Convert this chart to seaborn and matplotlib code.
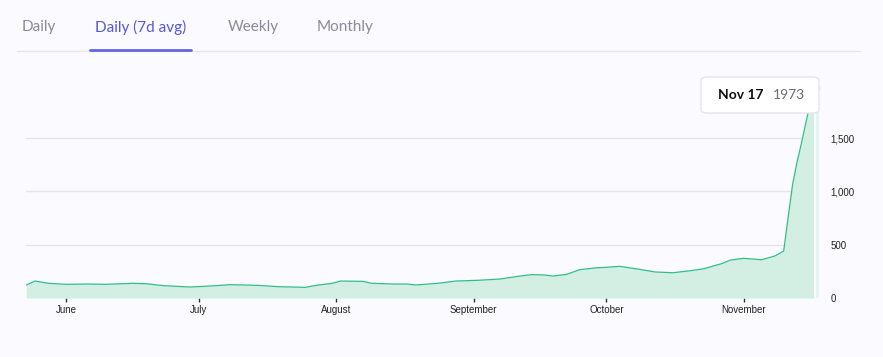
import pandas as pd
import seaborn as sns
import matplotlib.pyplot as plt
import matplotlib.dates as mdates
from matplotlib.patches import FancyBboxPatch
from matplotlib.lines import Line2D
from matplotlib.ticker import FuncFormatter

# 7-day average values
dates = [
    "2023-05-23", "2023-05-25", "2023-05-28", "2023-06-01", "2023-06-06",
    "2023-06-10", "2023-06-16", "2023-06-19", "2023-06-23", "2023-06-29",
    "2023-07-02", "2023-07-05", "2023-07-08", "2023-07-14", "2023-07-19",
    "2023-07-25", "2023-07-28", "2023-07-31", "2023-08-02", "2023-08-07",
    "2023-08-09", "2023-08-14", "2023-08-17", "2023-08-19", "2023-08-24",
    "2023-08-28", "2023-09-02", "2023-09-07", "2023-09-11", "2023-09-14",
    "2023-09-17", "2023-09-19", "2023-09-22", "2023-09-25", "2023-09-27",
    "2023-09-29", "2023-10-01", "2023-10-04", "2023-10-08", "2023-10-12",
    "2023-10-16", "2023-10-20", "2023-10-23", "2023-10-27", "2023-10-29",
    "2023-11-01", "2023-11-05", "2023-11-08", "2023-11-10", "2023-11-11",
    "2023-11-12", "2023-11-13", "2023-11-14", "2023-11-15", "2023-11-16",
    "2023-11-17",
]
values = [
    122, 159, 138, 128, 131,
    128, 138, 134, 116, 103,
    109, 116, 125, 119, 106,
    100, 122, 137, 159, 156,
    138, 131, 131, 122, 138,
    159, 166, 178, 203, 219,
    216, 206, 222, 266, 275,
    284, 288, 297, 272, 244,
    237, 256, 275, 322, 356,
    372, 359, 394, 440, 750,
    1060, 1270, 1450, 1640, 1830,
    1973,
]
y_ticks = [0, 500, 1000, 1500]
tabs = ["Daily", "Daily (7d avg)", "Weekly", "Monthly"]
active_tab = "Daily (7d avg)"
hover_label = "Nov 17"
hover_value = "1973"

df = pd.DataFrame({"date": pd.to_datetime(dates), "value": values})

bg = "#fafaff"
line_c = "#2fbf86"
fill_c = "#d3efe4"

sns.set_style("white", {"axes.facecolor": bg, "figure.facecolor": bg})
plt.rcParams["font.family"] = ["Liberation Sans", "DejaVu Sans"]

W, H = 883, 357
fig = plt.figure(figsize=(W / 100, H / 100), dpi=100)

# axes placement in pixels
x0, x1 = 26.2, 819.1
yb, ymax = 298, 1985
px_per_unit = 53.3 / 500
yt = yb - ymax * px_per_unit
ax = fig.add_axes([x0 / W, 1 - yb / H, (x1 - x0) / W, (yb - yt) / H])

ax.fill_between(df["date"], df["value"], 0, color=fill_c, lw=0, zorder=1)
sns.lineplot(data=df, x="date", y="value", ax=ax, color=line_c, lw=0.9, zorder=3)

# hover band + marker on the last point
last = df["date"].iloc[-1]
ax.axvspan(last, last + pd.Timedelta(days=1), color="#e3f5ee", lw=0, zorder=2)
ax.axvline(last, color="white", lw=1.2, zorder=2)
ax.plot([last], [df["value"].iloc[-1]], "o", ms=6, color="#d4ecf7", zorder=4, clip_on=False)

ax.set_xlim(pd.Timestamp("2023-05-23"), pd.Timestamp("2023-11-18"))
ax.set_ylim(0, ymax)
ax.set_yticks(y_ticks)
ax.yaxis.set_major_formatter(FuncFormatter(lambda v, p: f"{int(v):,}"))
ax.yaxis.tick_right()
ax.grid(axis="y", color="#e4e4ea", lw=1)
ax.set_axisbelow(True)

ax.xaxis.set_major_locator(mdates.MonthLocator(bymonth=range(6, 12)))
ax.xaxis.set_major_formatter(mdates.DateFormatter("%B"))
ax.tick_params(axis="x", length=3, width=1, color="#333333", pad=2, labelsize=7, labelcolor="#222222", bottom=True)
ax.tick_params(axis="y", length=0, pad=8, labelsize=7, labelcolor="#222222")
ax.set_xlabel("")
ax.set_ylabel("")
for s in ax.spines.values():
    s.set_visible(False)

# tabs on top
tab_font = ["Lato", "DejaVu Sans"]
tab_x = [22, 95, 228, 317]
for t, xp in zip(tabs, tab_x):
    fig.text(xp / W, 1 - 27.5 / H, t, ha="left", va="center", fontsize=11,
             family=tab_font, color="#5557d9" if t == active_tab else "#8a8a9c")
fig.add_artist(Line2D([17 / W, 860 / W], [1 - 51 / H] * 2, color="#e6e6ec", lw=1))
fig.add_artist(Line2D([90 / W, 191 / W], [1 - 50 / H] * 2, color="#6366e0", lw=2))

# tooltip
box = FancyBboxPatch((701 / W, 1 - 113 / H), 118 / W, 36 / H,
                     boxstyle="round,pad=0,rounding_size=0.008",
                     transform=fig.transFigure, facecolor="white",
                     edgecolor="#e4e4ee", lw=1, zorder=10)
fig.add_artist(box)
fig.text(718 / W, 1 - 95 / H, hover_label, ha="left", va="center", fontsize=10,
         fontweight="bold", family=tab_font, color="#111111", zorder=11)
fig.text(773 / W, 1 - 95 / H, hover_value, ha="left", va="center", fontsize=10,
         family=tab_font, color="#6b6b7b", zorder=11)

fig.savefig("out.png", dpi=100, facecolor=bg)
